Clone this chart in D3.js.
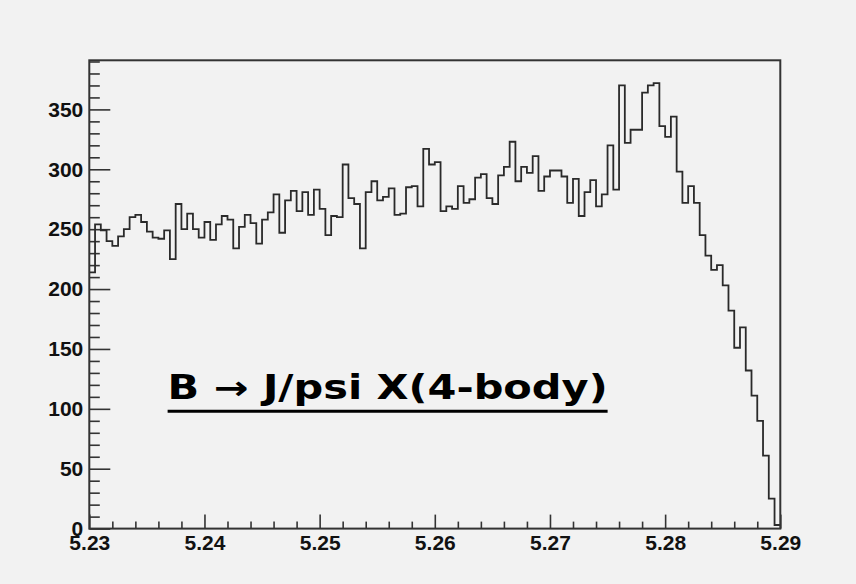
<!DOCTYPE html>
<html>
<head>
<meta charset="utf-8">
<script src="https://cdn.jsdelivr.net/npm/d3@7"></script>
<style>
  html, body { margin: 0; padding: 0; background: #f2f2f2; }
  svg { display: block; }
</style>
</head>
<body>
<script>
// ---- data ----
const xRange = [5.23, 5.29];
const binWidth = 0.0005;
const counts = [
  214, 254, 249, 240, 236, 244, 250, 260, 262, 256,
  248, 243, 242, 249, 225, 271, 250, 263, 250, 243,
  256, 241, 254, 261, 258, 234, 252, 262, 255, 238,
  258, 264, 279, 247, 274, 282, 265, 281, 262, 283,
  267, 245, 261, 260, 304, 276, 271, 234, 281, 290,
  274, 277, 284, 262, 263, 285, 286, 269, 317, 304,
  306, 265, 269, 267, 286, 272, 275, 293, 296, 276,
  271, 295, 302, 323, 290, 302, 297, 311, 282, 294,
  299, 299, 294, 272, 292, 261, 281, 291, 269, 279,
  320, 283, 370, 322, 333, 333, 364, 370, 372, 336,
  327, 344, 298, 272, 286, 272, 245, 228, 216, 220,
  203, 182, 151, 168, 132, 111, 90, 61, 25, 3
];
const yMax = 391;
const xTickLabels = ["5.23", "5.24", "5.25", "5.26", "5.27", "5.28", "5.29"];
const yTickValues = [0, 50, 100, 150, 200, 250, 300, 350];
const annotation = "B \u2192 J/psi X(4-body)";

// ---- layout ----
const W = 856, H = 584;
const frame = { left: 89.3, right: 780.3, top: 60.3, bottom: 528.6 };

const svg = d3.select("body").append("svg").attr("width", W).attr("height", H);
svg.append("rect").attr("width", W).attr("height", H).attr("fill", "#f2f2f2");

const x = d3.scaleLinear().domain(xRange).range([frame.left, frame.right]);
const y = d3.scaleLinear().domain([0, yMax]).range([frame.bottom, frame.top]);

const fontFam = "'Liberation Sans', Arial, Helvetica, sans-serif";

// minor ticks
const yMinor = d3.range(0, yMax + 0.001, 10).filter(v => v % 50 !== 0);
const xMinor = d3.range(0, 31).map(i => xRange[0] + i * 0.002).filter((v, i) => i % 5 !== 0);
const xMajor = xTickLabels.map(Number);

// y axis
const yAxisMajor = d3.axisLeft(y).tickValues(yTickValues).tickSize(-21).tickPadding(6).tickFormat(d3.format("d"));
const yAxisMinor = d3.axisLeft(y).tickValues(yMinor).tickSize(-10.5).tickFormat("");
const gy = svg.append("g").attr("transform", `translate(${frame.left},0)`);
gy.call(yAxisMajor);
svg.append("g").attr("transform", `translate(${frame.left},0)`).call(yAxisMinor);

// x axis
const xAxisMajor = d3.axisBottom(x).tickValues(xMajor).tickSize(-14).tickPadding(6)
  .tickFormat((d, i) => xTickLabels[i]);
const xAxisMinor = d3.axisBottom(x).tickValues(xMinor).tickSize(-7).tickFormat("");
svg.append("g").attr("transform", `translate(0,${frame.bottom})`).call(xAxisMajor);
svg.append("g").attr("transform", `translate(0,${frame.bottom})`).call(xAxisMinor);

svg.selectAll(".domain").remove();
svg.selectAll(".tick line").attr("stroke", "#333").attr("stroke-width", 1.6);
svg.selectAll(".tick text")
  .attr("font-family", fontFam).attr("font-weight", "bold")
  .attr("font-size", 21).attr("fill", "#111");

// histogram step line
const pts = counts.map((c, i) => [xRange[0] + i * binWidth, c]);
pts.push([xRange[0] + counts.length * binWidth, counts[counts.length - 1]]);
const line = d3.line().x(d => x(d[0])).y(d => y(d[1])).curve(d3.curveStepAfter);
svg.append("path").datum(pts).attr("d", line)
  .attr("fill", "none").attr("stroke", "#2a2a2a").attr("stroke-width", 1.8);

// frame
svg.append("rect")
  .attr("x", frame.left).attr("y", frame.top)
  .attr("width", frame.right - frame.left).attr("height", frame.bottom - frame.top)
  .attr("fill", "none").attr("stroke", "#333").attr("stroke-width", 2);

// annotation
const tx = x(5.2368), ty = y(108);
svg.append("text")
  .attr("x", tx).attr("y", ty)
  .attr("font-family", "'Comic Sans MS', 'DejaVu Sans', sans-serif")
  .attr("font-weight", "bold").attr("font-size", 33)
  .attr("textLength", 440).attr("lengthAdjust", "spacingAndGlyphs")
  .attr("fill", "#000")
  .text(annotation);
svg.append("line")
  .attr("x1", tx).attr("x2", tx + 440)
  .attr("y1", ty + 12).attr("y2", ty + 12)
  .attr("stroke", "#000").attr("stroke-width", 3);
</script>
</body>
</html>
